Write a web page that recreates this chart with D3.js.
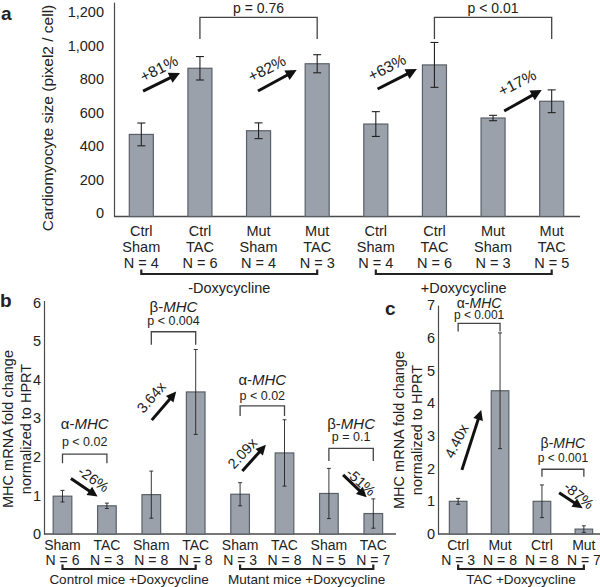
<!DOCTYPE html>
<html><head><meta charset="utf-8">
<script src="https://cdn.jsdelivr.net/npm/d3@7"></script>
<style>
body{margin:0;background:#fff}
svg text{font-family:"Liberation Sans",Arial,Helvetica,sans-serif;fill:#222}
</style>
</head><body>
<svg id="chart" width="600" height="587"></svg>
<script>
// ---------- Panel a data ----------
const aGenotype = ["Ctrl","Ctrl","Mut","Mut","Ctrl","Ctrl","Mut","Mut"];
const aSurgery  = ["Sham","TAC","Sham","TAC","Sham","TAC","Sham","TAC"];
const aN        = [4,6,4,3,4,6,3,5];
const aValues   = [490,885,512,912,552,905,588,688];
const aErrors   = [68,70,47,54,74,134,16,68];
const aTicks    = [0,200,400,600,800,1000,1200];
const aGroups   = [{from:0,to:3,label:"-Doxycycline"},{from:4,to:7,label:"+Doxycycline"}];
const aBrackets = [{from:1,to:3,top:1189,bottom:1060,p:"p = 0.76",pv:1243},
                   {from:5,to:7,top:1189,bottom:1060,p:"p < 0.01",pv:1243}];
const aArrows   = [{t0:0.03,v0:749,t1:0.66,v1:857,label:"+81%",tt:0.30,tv:884,rot:-27},
                   {t0:1.99,v0:749,t1:2.65,v1:875,label:"+82%",tt:2.14,tv:884,rot:-27},
                   {t0:4.03,v0:761,t1:4.70,v1:880,label:"+63%",tt:4.19,tv:891,rot:-27},
                   {t0:6.19,v0:630,t1:6.83,v1:755,label:"+17%",tt:6.41,tv:799,rot:-27}];

// ---------- Panel b data ----------
const bSurgery  = ["Sham","TAC","Sham","TAC","Sham","TAC","Sham","TAC"];
const bN        = [6,3,8,8,3,8,5,7];
const bValues   = [0.98,0.73,1.02,3.68,1.03,2.10,1.05,0.53];
const bErrors   = [0.15,0.07,0.61,1.10,0.30,0.86,0.65,0.38];
const bTicks    = [0,1,2,3,4,5,6];
const bGroups   = [{from:0,to:3,label:"Control mice +Doxycycline"},{from:4,to:7,label:"Mutant mice +Doxycycline"}];
const bBrackets = [{from:0,to:1,top:2.07,bottom:1.83,p:"p < 0.02",pv:2.38,gene:"α",gv:2.87},
                   {from:2,to:3,top:5.24,bottom:4.90,p:"p < 0.004",pv:5.53,gene:"β",gv:5.91},
                   {from:4,to:5,top:3.32,bottom:3.06,p:"p < 0.02",pv:3.58,gene:"α",gv:4.01},
                   {from:6,to:7,top:2.22,bottom:1.89,p:"p = 0.1",pv:2.51,gene:"β",gv:2.88}];
const bArrows   = [{t0:0.19,v0:1.44,t1:0.79,v1:0.97,label:"-26%",tt:0.70,tv:1.42,rot:35},
                   {t0:2.01,v0:2.95,t1:2.56,v1:3.69,label:"3.64x",tt:2.00,tv:3.54,rot:-49},
                   {t0:4.05,v0:1.63,t1:4.58,v1:2.31,label:"2.09x",tt:4.05,tv:2.09,rot:-47},
                   {t0:6.32,v0:1.53,t1:6.85,v1:0.95,label:"-51%",tt:6.72,tv:1.35,rot:42}];

// ---------- Panel c data ----------
const cGenotype = ["Ctrl","Mut","Ctrl","Mut"];
const cN        = [3,8,8,7];
const cValues   = [1.00,4.38,1.00,0.15];
const cErrors   = [0.09,1.77,0.50,0.10];
const cTicks    = [0,1,2,3,4,5,6,7];
const cGroups   = [{from:0,to:3,label:"TAC +Doxycycline"}];
const cBrackets = [{from:0,to:1,top:6.44,bottom:6.19,p:"p < 0.001",pv:6.69,gene:"α",gv:7.06},
                   {from:2,to:3,top:1.98,bottom:1.75,p:"p < 0.001",pv:2.33,gene:"β",gv:2.79}];
const cArrows   = [{t0:0.09,v0:1.96,t1:0.55,v1:3.79,label:"4.40x",tt:-0.04,tv:2.84,rot:-63},
                   {t0:2.41,v0:1.26,t1:2.97,v1:0.79,label:"-87%",tt:2.88,tv:1.18,rot:40}];

const svg = d3.select("#chart");
const BAR_FILL = "#9aa1aa", BAR_STROKE = "#5b6068", AXIS = "#4a4a4a";

function arrow(g, x0, y0, x1, y1, w, headL, headW){
  const a = Math.atan2(y1-y0, x1-x0), ux = Math.cos(a), uy = Math.sin(a);
  const bx = x1 - ux*headL, by = y1 - uy*headL;
  g.append("line").attr("x1",x0).attr("y1",y0).attr("x2",bx+ux*1).attr("y2",by+uy*1)
    .attr("stroke","#111").attr("stroke-width",w);
  g.append("path").attr("d",`M${x1},${y1}L${bx-uy*headW},${by+ux*headW}L${bx+uy*headW},${by-ux*headW}Z`)
    .attr("fill","#111");
}

function drawPanel(o){
  const g = svg.append("g");
  const n = o.values.length;
  const x = d3.scaleBand().domain(d3.range(n)).range(o.xRange).paddingInner(o.pad).paddingOuter(o.pad/2);
  const y = d3.scaleLinear().domain([0, o.yMax]).range([o.y0, o.y0 - o.yMax*o.ppu]);
  const cx = i => x(i) + x.bandwidth()/2;
  const px = t => cx(0) + t*x.step();

  const ax = g.append("g").attr("transform",`translate(${o.axisX},0)`)
    .call(d3.axisLeft(y).tickValues(o.ticks).tickSize(0).tickPadding(o.tickPad).tickFormat(o.fmt));
  ax.attr("font-family",null).attr("font-size",null);
  ax.select(".domain").attr("stroke",AXIS).attr("stroke-width",1.2);
  ax.selectAll("text").attr("font-size",o.tickFont).attr("y",o.tickDy).attr("fill","#222");

  g.append("line").attr("x1",o.axisX).attr("x2",o.baseEnd).attr("y1",y(0)).attr("y2",y(0))
    .attr("stroke",AXIS).attr("stroke-width",1.5);

  g.selectAll("rect.bar").data(o.values).join("rect").attr("class","bar")
    .attr("x",(d,i)=>x(i)).attr("width",x.bandwidth())
    .attr("y",d=>y(d)).attr("height",d=>y(0)-y(d))
    .attr("fill",BAR_FILL).attr("stroke",BAR_STROKE).attr("stroke-width",1.2);

  o.values.forEach((v,i)=>{
    const e = o.errors[i], c = cx(i);
    g.append("line").attr("x1",c).attr("x2",c).attr("y1",y(v+e)).attr("y2",y(Math.max(0,v-e)))
      .attr("stroke","#222").attr("stroke-width",o.errW);
    [v+e, Math.max(0,v-e)].forEach(val=>{
      g.append("line").attr("x1",c-o.cap).attr("x2",c+o.cap).attr("y1",y(val)).attr("y2",y(val))
        .attr("stroke","#222").attr("stroke-width",o.errW);
    });
  });

  o.rows.forEach((row,r)=>{
    g.selectAll(null).data(row).join("text")
      .attr("x",(d,i)=>cx(i)).attr("y",o.rowY[r]).attr("text-anchor","middle")
      .attr("dominant-baseline","central").attr("font-size",o.labelFont).text(d=>d);
  });

  o.groups.forEach(gr=>{
    const x0 = cx(gr.from), x1 = cx(gr.to), yb = o.groupBracketY;
    g.append("path").attr("d",`M${x0},${yb-4.5}L${x0},${yb}L${x1},${yb}L${x1},${yb-4.5}`)
      .attr("fill","none").attr("stroke","#222").attr("stroke-width",2.2);
    g.append("text").attr("x",(x0+x1)/2).attr("y",o.groupTextY).attr("text-anchor","middle")
      .attr("dominant-baseline","central").attr("font-size",o.groupFont).text(gr.label);
  });

  o.brackets.forEach(b=>{
    const x0 = cx(b.from), x1 = cx(b.to);
    g.append("path").attr("d",`M${x0},${y(b.bottom)}L${x0},${y(b.top)}L${x1},${y(b.top)}L${x1},${y(b.bottom)}`)
      .attr("fill","none").attr("stroke","#444").attr("stroke-width",1.3);
    g.append("text").attr("x",(x0+x1)/2).attr("y",y(b.pv)).attr("text-anchor","middle")
      .attr("dominant-baseline","central").attr("font-size",o.pFont).text(b.p);
    if (b.gene){
      const t = g.append("text").attr("x",(x0+x1)/2).attr("y",y(b.gv)).attr("text-anchor","middle")
        .attr("dominant-baseline","central").attr("font-size",o.geneFont);
      t.append("tspan").text(b.gene + "-");
      t.append("tspan").attr("font-style","italic").text("MHC");
    }
  });

  o.arrows.forEach(a=>{
    arrow(g, px(a.t0), y(a.v0), px(a.t1), y(a.v1), o.arrowW, o.headL, o.headW);
    g.append("text").attr("transform",`translate(${px(a.tt)},${y(a.tv)}) rotate(${a.rot})`)
      .attr("text-anchor","middle").attr("dominant-baseline","central")
      .attr("font-size",o.arrowFont).text(a.label);
  });

  o.title.forEach((line,k)=>{
    g.append("text").attr("transform",`translate(${o.titleX[k]},${o.titleY}) rotate(-90)`)
      .attr("text-anchor","middle").attr("dominant-baseline","central")
      .attr("font-size",o.titleFont).text(line);
  });

  g.append("text").attr("x",o.letter.x).attr("y",o.letter.y).attr("font-weight","bold")
    .attr("font-size",19).attr("dominant-baseline","central").text(o.letter.t);
}

drawPanel({
  values:aValues, errors:aErrors, ticks:aTicks, yMax:1280, y0:216.5, ppu:0.1675,
  xRange:[112,581], pad:0.59, axisX:114, baseEnd:580, tickPad:10, tickDy:-3.5, tickFont:14.5,
  fmt:d3.format(","), errW:1.1, cap:4,
  rows:[aGenotype, aSurgery, aN.map(v=>"N = "+v)], rowY:[231,247,263], labelFont:14.5,
  groups:aGroups, groupBracketY:274, groupTextY:287.5, groupFont:14.5,
  brackets:aBrackets, pFont:14, geneFont:15,
  arrows:aArrows, arrowW:3, headL:11, headW:5.5, arrowFont:15.5,
  title:["Cardiomyocyte size (pixel2 / cell)"], titleX:[47], titleY:118, titleFont:15.5,
  letter:{t:"a",x:1,y:13}
});

drawPanel({
  values:bValues, errors:bErrors, ticks:bTicks, yMax:6.05, y0:534, ppu:38.6,
  xRange:[40.3,395.5], pad:0.58, axisX:44, baseEnd:396, tickPad:3, tickDy:0, tickFont:14.5,
  fmt:d3.format("d"), errW:0.9, cap:2,
  rows:[bSurgery, bN.map(v=>"N = "+v)], rowY:[544.5,559.5], labelFont:14,
  groups:bGroups, groupBracketY:569, groupTextY:579.5, groupFont:13.5,
  brackets:bBrackets, pFont:12.5, geneFont:15,
  arrows:bArrows, arrowW:3, headL:10, headW:5, arrowFont:14.5,
  title:["MHC mRNA fold change","normalized to HPRT"], titleX:[8,26], titleY:429, titleFont:14.5,
  letter:{t:"b",x:0,y:300}
});

drawPanel({
  values:cValues, errors:cErrors, ticks:cTicks, yMax:7.0, y0:534, ppu:32.7,
  xRange:[437.2,604.8], pad:0.58, axisX:438, baseEnd:600, tickPad:3, tickDy:0, tickFont:14.5,
  fmt:d3.format("d"), errW:0.9, cap:2,
  rows:[cGenotype, cN.map(v=>"N = "+v)], rowY:[544.5,559.5], labelFont:14,
  groups:cGroups, groupBracketY:569, groupTextY:579.5, groupFont:13.5,
  brackets:cBrackets, pFont:12, geneFont:14,
  arrows:cArrows, arrowW:3, headL:10, headW:5, arrowFont:14.5,
  title:["MHC mRNA fold change","normalized to HPRT"], titleX:[399,417], titleY:430, titleFont:14.5,
  letter:{t:"c",x:385,y:308}
});
</script>
</body></html>
